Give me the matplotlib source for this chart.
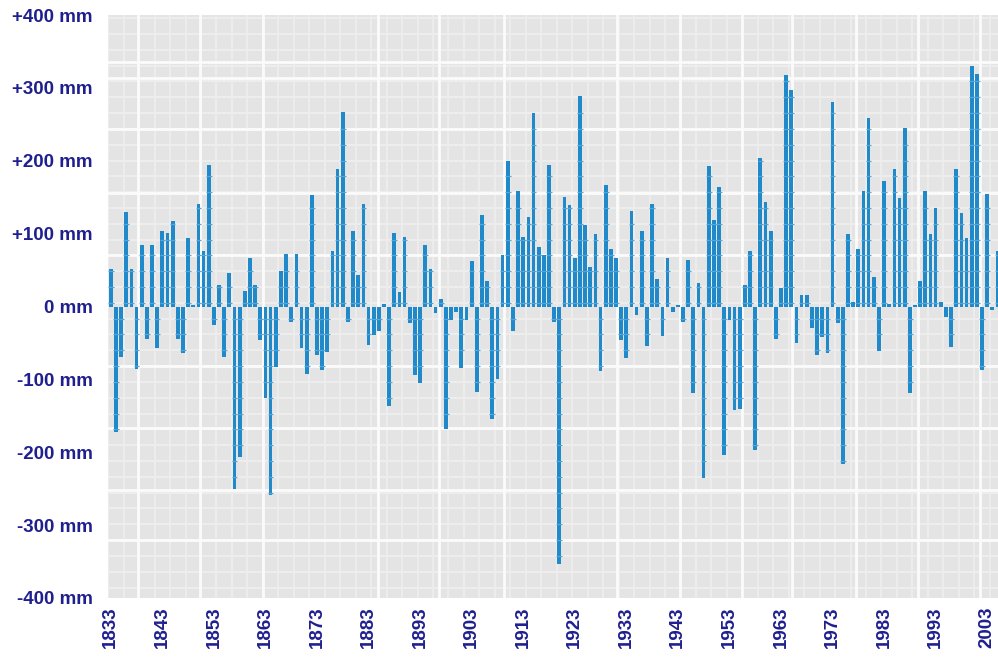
import matplotlib
matplotlib.use("Agg")
import matplotlib.pyplot as plt
import numpy as np

# ---- data ----
start_year = 1833
anomaly_mm = [
    52, -172, -69, 130, 52, -86, 85, -44, 85, -57,
    103, 101, 117, -45, -64, 94, 2, 140, 76, 194,
    -25, 30, -69, 46, -250, -206, 21, 66, 30, -46,
    -126, -259, -83, 49, 72, -21, 72, -57, -92, 153,
    -67, -87, -62, 76, 188, 267, -21, 104, 43, 140,
    -53, -39, -34, 3, -137, 101, 20, 96, -22, -94,
    -105, 85, 52, -9, 10, -168, -18, -8, -84, -18,
    63, -117, 125, 35, -155, -100, 71, 200, -33, 158,
    96, 123, 265, 82, 71, 194, -21, -353, 150, 139,
    66, 289, 112, 54, 99, -89, 167, 79, 67, -46,
    -71, 131, -12, 103, -54, 141, 38, -40, 67, -7,
    2, -21, 64, -119, 32, -235, 193, 119, 164, -204,
    -18, -142, -140, 30, 76, -197, 204, 144, 103, -44,
    26, 317, 297, -50, 16, 16, -30, -67, -42, -64,
    281, -23, -216, 99, 6, 79, 158, 259, 41, -61,
    172, 3, 188, 149, 245, -119, 2, 35, 158, 99,
    135, 6, -14, -56, 188, 128, 94, 330, 319, -87,
    154, -5, 76,
]
years = list(range(start_year, start_year + len(anomaly_mm)))

y_ticks = [400, 300, 200, 100, 0, -100, -200, -300, -400]
y_tick_labels = ["+400 mm", "+300 mm", "+200 mm", "+100 mm", "0 mm",
                 "-100 mm", "-200 mm", "-300 mm", "-400 mm"]
x_ticks = list(range(1833, 2004, 10))
x_tick_labels = [str(y) for y in x_ticks]

# decorative background texture (style only)
minor_h_step = 21.7
minor_h_offset = 5.0
major_h_grid = [335, 314, 244, 156, 70, -81, -167, -252, -321]
major_v_grid = [1838.3, 1850.4, 1862.6, 1884.8, 1896.7, 1909.2, 1931.2,
                1943.4, 1955.5, 1965.2, 1977.5, 1989.6, 2001.7]

# ---- figure ----
fig = plt.figure(figsize=(9.98, 6.59), dpi=100)
ax = fig.add_axes([108 / 998, 1 - 598 / 659, 890 / 998, 583 / 659])
ax.set_facecolor("#e4e4e4")

minor_levels = minor_h_offset + minor_h_step * np.arange(-20, 20)
for v in minor_levels:
    ax.axhline(v, color="#efefef", lw=1.2, zorder=0.3)
for v in np.arange(1832.5, 2007, 3.0):
    ax.axvline(v, color="#eeeeee", lw=1.2, zorder=0.3)
for v in major_h_grid:
    ax.axhline(v, color="#fbfbfb", lw=2.0, zorder=0.5)
for v in major_v_grid:
    ax.axvline(v, color="#fbfbfb", lw=2.0, zorder=0.5)

ax.bar(years, anomaly_mm, width=0.72, color="#2089ca", linewidth=0, zorder=2)

# small tick marks where the texture lines cross each bar
mk_x0, mk_x1, mk_y = [], [], []
for yr, v in zip(years, anomaly_mm):
    for lev in minor_levels:
        if (0 < lev < v - 3) or (v + 3 < lev < 0):
            mk_x0.append(yr - 0.55)
            mk_x1.append(yr + 0.55)
            mk_y.append(lev)
ax.hlines(mk_y, mk_x0, mk_x1, color="#55a6d8", lw=0.9, zorder=2.5)

ax.set_xlim(1832.46, 2005.1)
ax.set_ylim(-400, 400)

label_color = "#1f1f8f"
ax.set_yticks(y_ticks)
ax.set_yticklabels(y_tick_labels, fontfamily="Liberation Sans",
                   fontweight="bold", fontsize=13.5, color=label_color)
ax.set_xticks(x_ticks)
ax.set_xticklabels(x_tick_labels, rotation=90, fontfamily="Liberation Sans",
                   fontweight="bold", fontsize=13.5, color=label_color)
ax.tick_params(axis="y", length=0, pad=11)
ax.tick_params(axis="x", length=0, pad=6)
for s in ax.spines.values():
    s.set_visible(False)

fig.savefig("out.png", dpi=100)
